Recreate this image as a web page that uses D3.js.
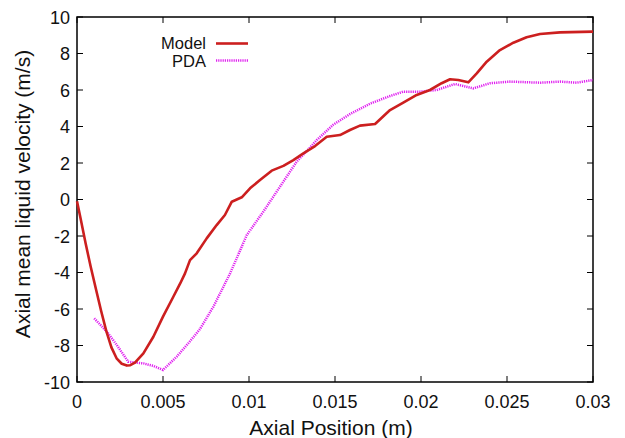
<!DOCTYPE html>
<html><head><meta charset="utf-8">
<script src="https://cdn.jsdelivr.net/npm/d3@7/dist/d3.min.js"></script>
<style>body{margin:0;background:#fff}svg{display:block}text{font-family:"Liberation Sans",Arial,sans-serif;fill:#111}</style>
</head><body><svg id="c" width="625" height="438"></svg>
<script>
const xTicks = [0, 0.005, 0.01, 0.015, 0.02, 0.025, 0.03];
const xTickLabels = ["0", "0.005", "0.01", "0.015", "0.02", "0.025", "0.03"];
const yTicks = [-10, -8, -6, -4, -2, 0, 2, 4, 6, 8, 10];
const modelX = [0, 0.0002, 0.0005, 0.0008, 0.0011, 0.0014, 0.0017, 0.002, 0.0023, 0.0026, 0.0029, 0.0031, 0.00337, 0.00386, 0.00444, 0.005, 0.0056, 0.006, 0.00628, 0.00657, 0.00696, 0.00754, 0.00812, 0.0086, 0.009, 0.00958, 0.01006, 0.01064, 0.01132, 0.012, 0.01258, 0.01316, 0.01384, 0.01452, 0.01529, 0.01587, 0.01645, 0.01733, 0.0182, 0.01897, 0.01975, 0.02052, 0.0212, 0.02169, 0.02217, 0.02275, 0.02324, 0.02382, 0.02459, 0.02537, 0.02614, 0.02692, 0.02808, 0.03];
const modelY = [-0.1, -1.0, -2.4, -3.7, -4.9, -6.1, -7.2, -8.1, -8.7, -9.0, -9.1, -9.08, -8.94, -8.43, -7.52, -6.42, -5.33, -4.6, -4.05, -3.32, -2.95, -2.13, -1.40, -0.85, -0.12, 0.12, 0.61, 1.07, 1.58, 1.84, 2.16, 2.53, 2.93, 3.44, 3.53, 3.81, 4.05, 4.14, 4.9, 5.31, 5.73, 6.0, 6.37, 6.59, 6.55, 6.42, 6.91, 7.55, 8.19, 8.59, 8.89, 9.07, 9.16, 9.2];
const pdaX = [0.001, 0.00173, 0.00231, 0.00298, 0.00386, 0.00444, 0.005, 0.0058, 0.00647, 0.00715, 0.00793, 0.0089, 0.00987, 0.01083, 0.0118, 0.01277, 0.01355, 0.01393, 0.0149, 0.01587, 0.01703, 0.0182, 0.01897, 0.01994, 0.02091, 0.02198, 0.02304, 0.02401, 0.02517, 0.02692, 0.02808, 0.02905, 0.03];
const pdaY = [-6.51, -7.24, -7.97, -8.89, -8.98, -9.12, -9.34, -8.61, -7.88, -7.1, -5.87, -4.05, -1.95, -0.67, 0.70, 2.07, 2.85, 3.25, 4.1, 4.68, 5.25, 5.67, 5.91, 5.91, 6.0, 6.33, 6.09, 6.37, 6.46, 6.4, 6.46, 6.4, 6.55];

const L = 77, R = 593, T = 17, B = 382;
const svg = d3.select("#c");
const x = d3.scaleLinear().domain([0, 0.03]).range([L, R]);
const y = d3.scaleLinear().domain([-10, 10]).range([B, T]);
const tl = 6;

const g = svg.append("g").attr("stroke", "#000").attr("stroke-width", 1);
xTicks.forEach(v => {
  g.append("line").attr("x1", x(v)).attr("x2", x(v)).attr("y1", B).attr("y2", B - tl);
  g.append("line").attr("x1", x(v)).attr("x2", x(v)).attr("y1", T).attr("y2", T + tl);
});
yTicks.forEach(v => {
  g.append("line").attr("x1", L).attr("x2", L + tl).attr("y1", y(v)).attr("y2", y(v));
  g.append("line").attr("x1", R).attr("x2", R - tl).attr("y1", y(v)).attr("y2", y(v));
});
svg.append("rect").attr("x", L).attr("y", T).attr("width", R - L).attr("height", B - T)
  .attr("fill", "none").attr("stroke", "#000").attr("stroke-width", 1.5);

xTicks.forEach((v, i) => {
  svg.append("text").attr("x", x(v)).attr("y", B + 26).attr("text-anchor", "middle")
    .attr("font-size", 18).text(xTickLabels[i]);
});
yTicks.forEach(v => {
  svg.append("text").attr("x", L - 7).attr("y", y(v) + 6.5).attr("text-anchor", "end")
    .attr("font-size", 18).text(v);
});

svg.append("text").attr("x", 331).attr("y", 435).attr("text-anchor", "middle")
  .attr("font-size", 21).text("Axial Position (m)");
svg.append("text").attr("transform", `translate(30,194) rotate(-90)`)
  .attr("text-anchor", "middle").attr("font-size", 21).text("Axial mean liquid velocity (m/s)");

const line = d3.line().x(d => x(d[0])).y(d => y(d[1]));
const pda = pdaX.map((v, i) => [v, pdaY[i]]);
const model = modelX.map((v, i) => [v, modelY[i]]);

svg.append("path").datum(pda).attr("d", line).attr("fill", "none")
  .attr("stroke", "#e020f0").attr("stroke-width", 2.5).attr("stroke-dasharray", "1.2,1");
svg.append("path").datum(model).attr("d", line).attr("fill", "none")
  .attr("stroke", "#cc1f1f").attr("stroke-width", 2.6).attr("stroke-linejoin", "round");

svg.append("text").attr("x", 206).attr("y", 49).attr("text-anchor", "end").attr("font-size", 16.5).text("Model");
svg.append("line").attr("x1", 216).attr("x2", 248).attr("y1", 43.5).attr("y2", 43.5)
  .attr("stroke", "#cc1f1f").attr("stroke-width", 2.6);
svg.append("text").attr("x", 206).attr("y", 66.5).attr("text-anchor", "end").attr("font-size", 16.5).text("PDA");
svg.append("line").attr("x1", 216).attr("x2", 248).attr("y1", 60.5).attr("y2", 60.5)
  .attr("stroke", "#e020f0").attr("stroke-width", 2.5).attr("stroke-dasharray", "1.2,1");
</script></body></html>
